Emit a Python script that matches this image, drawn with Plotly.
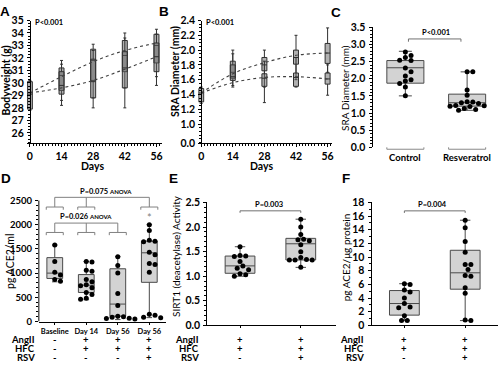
import plotly.graph_objects as go

W, H = 500, 373
FONT = "Lato"
LFONT = "Liberation Sans"


def fx(px):
    return px / W


def fy(py):
    return 1 - py / H


# ------------------------------------------------------------------ data
days = [0, 14, 28, 42, 56]
later_days = [14, 28, 42, 56]

# Panel A: bodyweight (g)
bw_day0 = [27.9, 29.1, 30.1, 27.8, 30.2]          # q1, median, q3, low, high
bw_ctrl_q1 = [29.4, 30.2, 30.9, 31.6]
bw_ctrl_med = [30.6, 31.8, 32.2, 33.0]
bw_ctrl_q3 = [31.2, 32.7, 33.4, 33.9]
bw_ctrl_lo = [28.6, 28.8, 29.6, 30.5]
bw_ctrl_hi = [31.8, 33.1, 34.0, 34.3]
bw_rsv_q1 = [29.1, 28.8, 29.6, 30.9]
bw_rsv_med = [29.8, 30.1, 31.2, 32.1]
bw_rsv_q3 = [30.9, 31.9, 32.5, 33.2]
bw_rsv_lo = [28.2, 28.0, 28.0, 29.8]
bw_rsv_hi = [31.5, 32.6, 33.6, 33.9]
bw_ctrl_fit = [29.2, 30.5, 31.7, 32.6, 33.2]
bw_rsv_fit = [29.2, 29.6, 30.2, 31.1, 32.1]

# Panel B: SRA diameter (mm) over time
sra_day0 = [1.30, 1.42, 1.48, 1.28, 1.50]
sra_ctrl_q1 = [1.62, 1.72, 1.81, 1.82]
sra_ctrl_med = [1.70, 1.80, 1.90, 1.96]
sra_ctrl_q3 = [1.85, 1.90, 2.00, 2.09]
sra_ctrl_lo = [1.52, 1.50, 1.60, 1.70]
sra_ctrl_hi = [2.00, 2.00, 2.20, 2.30]
sra_rsv_q1 = [1.59, 1.51, 1.51, 1.54]
sra_rsv_med = [1.64, 1.62, 1.63, 1.61]
sra_rsv_q3 = [1.80, 1.68, 1.69, 1.69]
sra_rsv_lo = [1.50, 1.29, 1.50, 1.39]
sra_rsv_hi = [1.95, 1.85, 1.90, 1.80]
sra_ctrl_fit = [1.42, 1.68, 1.83, 1.93, 1.96]
sra_rsv_fit = [1.42, 1.56, 1.63, 1.64, 1.61]
sra_ticks = [1.0, 1.2, 1.4, 1.6, 1.8, 2.0, 2.2, 2.4]

# Panel C: SRA diameter (mm) at end
c_labels = ["Control", "Resveratrol"]
c_ctrl_pts = [2.78, 2.68, 2.62, 2.54, 2.53, 2.31, 2.20, 2.08, 1.97, 1.93, 1.86, 1.76, 1.50]
c_rsv_pts = [2.20, 2.20, 1.67, 1.52, 1.33, 1.32, 1.30, 1.28, 1.22, 1.21, 1.20, 1.19, 1.13, 1.10, 1.08]
c_stats = {"q1": [1.87, 1.20], "median": [2.32, 1.30], "q3": [2.53, 1.55],
           "lowerfence": [1.50, 1.08], "upperfence": [2.80, 2.20]}

# Panel D: plasma ACE2 (pg/ml)
d_labels = ["Baseline", "Day 14", "Day 56", "Day 56"]
d_pts = [
    [1580, 1240, 1020, 960, 870, 830],
    [1240, 1230, 1060, 1040, 870, 820, 760, 740, 700, 600, 560, 480, 460],
    [1340, 1160, 1000, 580, 330, 110, 100, 90, 70, 60, 50],
    [2000, 1880, 1680, 1660, 1650, 1430, 1380, 1200, 1180, 1020, 150, 130, 90, 80],
]
d_stats = {"q1": [890, 600, 110, 810], "median": [1000, 750, 360, 1420],
           "q3": [1320, 970, 1090, 1660], "lowerfence": [820, 450, 40, 80],
           "upperfence": [1580, 1240, 1340, 2000]}
d_angii = ["-", "+", "+", "+"]
d_hfc = ["-", "+", "+", "+"]
d_rsv = ["-", "-", "-", "+"]

# Panel E: SIRT1 activity
e_pts = [
    [1.60, 1.42, 1.41, 1.40, 1.30, 1.21, 1.16, 1.13, 1.05, 1.03, 1.00],
    [2.16, 2.00, 1.85, 1.75, 1.74, 1.72, 1.64, 1.50, 1.38, 1.34, 1.33, 1.33, 1.33, 1.18],
]
e_stats = {"q1": [1.06, 1.33], "median": [1.21, 1.66], "q3": [1.41, 1.77],
           "lowerfence": [1.00, 1.18], "upperfence": [1.60, 2.16]}

# Panel F: tissue ACE2 (pg/ug protein)
f_pts = [
    [6.1, 6.0, 5.2, 4.9, 4.0, 3.2, 2.7, 2.6, 1.4, 0.7, 0.7],
    [15.4, 14.3, 12.3, 10.7, 8.9, 8.9, 8.2, 7.3, 7.2, 5.5, 4.7, 0.8, 0.7],
]
f_stats = {"q1": [1.5, 5.3], "median": [3.2, 7.7], "q3": [5.1, 11.0],
           "lowerfence": [0.7, 0.7], "upperfence": [6.1, 15.4]}
ef_angii = ["+", "+"]
ef_hfc = ["+", "+"]
ef_rsv = ["-", "+"]

# ------------------------------------------------------------------ layout geometry (pixels)
P = {
    "A": (27.05, 163, [-1.3, 58.6], 15, 142, [25.15, 35]),
    "B": (199.05, 333, [-1.3, 57.8], 15, 142, [0.738, 2.4]),
    "C": (374, 500, [-0.532, 1.5], 22, 146, [0, 3.5]),
    "D": (39, 167, [-0.505, 3.54], 194, 326, [0, 2640]),
    "E": (208, 337, [-0.541, 1.574], 203, 330, [0, 2.5]),
    "F": (373, 500, [-0.541, 1.54], 203, 330, [0, 18]),
}
AX = {"A": ("x", "y"), "B": ("x2", "y2"), "C": ("x3", "y3"),
      "D": ("x4", "y4"), "E": ("x5", "y5"), "F": ("x6", "y6")}


def ppu(k):
    x0, x1, xr, yt, yb, yr = P[k]
    return (x1 - x0) / (xr[1] - xr[0]), (yb - yt) / (yr[1] - yr[0])


def swarm(vals, k, d=5.2):
    ppx, ppy = ppu(k)
    placed = []
    offs = [0.0] * len(vals)
    order = sorted(range(len(vals)), key=lambda i: -vals[i])
    cands = [0.0]
    for j in range(1, 25):
        cands += [j * d * 0.55, -j * d * 0.55]
    for i in order:
        yv = vals[i] * ppy
        for c in cands:
            if all((c - a) ** 2 + (yv - b) ** 2 >= d * d for a, b in placed):
                break
        placed.append((c, yv))
        offs[i] = c / ppx
    return offs


fig = go.Figure()

TIME_FILL = "rgba(100,100,100,0.5)"
TIME_LINE = "#303030"


def time_boxes(k, d0, cq1, cmed, cq3, clo, chi, rq1, rmed, rq3, rlo, rhi, cfit, rfit):
    xa, ya = AX[k]
    common = dict(xaxis=xa, yaxis=ya, width=2.2, boxpoints=False, fillcolor=TIME_FILL,
                  line=dict(color=TIME_LINE, width=1), whiskerwidth=0.6, hoverinfo="skip")
    fig.add_trace(go.Box(x=[days[0]], q1=[d0[0]], median=[d0[1]], q3=[d0[2]],
                         lowerfence=[d0[3]], upperfence=[d0[4]], **common))
    fig.add_trace(go.Box(x=later_days, q1=cq1, median=cmed, q3=cq3,
                         lowerfence=clo, upperfence=chi, **common))
    fig.add_trace(go.Box(x=later_days, q1=rq1, median=rmed, q3=rq3,
                         lowerfence=rlo, upperfence=rhi, **common))
    for fit in (cfit, rfit):
        fig.add_trace(go.Scatter(x=days, y=fit, mode="lines", xaxis=xa, yaxis=ya,
                                 line=dict(color="#404040", width=1.1, dash="dot", shape="spline"),
                                 hoverinfo="skip"))


time_boxes("A", bw_day0, bw_ctrl_q1, bw_ctrl_med, bw_ctrl_q3, bw_ctrl_lo, bw_ctrl_hi,
           bw_rsv_q1, bw_rsv_med, bw_rsv_q3, bw_rsv_lo, bw_rsv_hi, bw_ctrl_fit, bw_rsv_fit)
time_boxes("B", sra_day0, sra_ctrl_q1, sra_ctrl_med, sra_ctrl_q3, sra_ctrl_lo, sra_ctrl_hi,
           sra_rsv_q1, sra_rsv_med, sra_rsv_q3, sra_rsv_lo, sra_rsv_hi, sra_ctrl_fit, sra_rsv_fit)

BOX_FILL = "#d3d3d3"
BOX_LINE = "#4a4a4a"


def cat_boxes(k, stats, pts_groups, width):
    xa, ya = AX[k]
    n = len(stats["q1"])
    fig.add_trace(go.Box(x=list(range(n)), xaxis=xa, yaxis=ya, width=width, boxpoints=False,
                         fillcolor=BOX_FILL, line=dict(color=BOX_LINE, width=1),
                         whiskerwidth=0.35, hoverinfo="skip", **stats))
    for gi, pts in enumerate(pts_groups):
        offs = swarm(pts, k)
        fig.add_trace(go.Scatter(x=[gi + o for o in offs], y=pts, mode="markers",
                                 xaxis=xa, yaxis=ya, cliponaxis=False,
                                 marker=dict(color="black", size=5), hoverinfo="skip"))


cat_boxes("C", c_stats, [c_ctrl_pts, c_rsv_pts], 0.6)
cat_boxes("D", d_stats, d_pts, 0.5)
cat_boxes("E", e_stats, e_pts, 0.49)
cat_boxes("F", f_stats, f_pts, 0.49)

# ------------------------------------------------------------------ axes
TF = dict(family=FONT, size=10.5, color="black", weight="bold")


def yax(k, **kw):
    x0, x1, xr, yt, yb, yr = P[k]
    d = dict(domain=[fy(yb), fy(yt)], range=yr, showline=True, linecolor="black", linewidth=1,
             ticks="outside", ticklen=3, tickcolor="black", tickwidth=1, showgrid=False,
             zeroline=False, tickfont=TF, anchor=AX[k][0], ticklabelstandoff=1)
    d.update(kw)
    return d


def xax(k, **kw):
    x0, x1, xr, yt, yb, yr = P[k]
    d = dict(domain=[fx(x0), fx(x1)], range=xr, showline=True, linecolor="black", linewidth=1,
             ticks="outside", ticklen=2, tickcolor="black", tickwidth=1, showgrid=False,
             zeroline=False, tickfont=TF, anchor=AX[k][1])
    d.update(kw)
    return d


MINOR = dict(ticks="outside", ticklen=2, tickcolor="black", tickwidth=1)

fig.update_layout(
    xaxis=xax("A", tickvals=days, ticklen=3, minor=dict(dtick=1.4, tick0=0, **MINOR)),
    yaxis=yax("A", dtick=1, tick0=0, anchor="free", position=fx(30),
              minor=dict(dtick=0.25, tick0=0, **MINOR)),
    xaxis2=xax("B", tickvals=days, ticklen=3, minor=dict(dtick=1.4, tick0=0, **MINOR)),
    yaxis2=yax("B", tickvals=[P["B"][5][0]] + sra_ticks,
               ticktext=["0.0"] + [f"{v:.1f}" for v in sra_ticks],
               anchor="free", position=fx(202),
               minor=dict(dtick=0.05, tick0=0, **MINOR)),
    xaxis3=xax("C", tickvals=[0, 1], showline=False, ticks="", showticklabels=False),
    yaxis3=yax("C", dtick=0.5, tickformat=".1f", minor=dict(dtick=0.1, **MINOR)),
    xaxis4=xax("D", tickvals=[0, 1, 2, 3], ticktext=d_labels,
               tickfont=dict(family=FONT, size=7.5, color="black", weight="bold")),
    yaxis4=yax("D", tickvals=[0, 500, 1000, 1500, 2000, 2500], showline=False,
               tickfont=dict(family=FONT, size=9.5, color="black", weight="bold"),
               minor=dict(tickmode="array", tickvals=list(range(0, 2501, 100)), **MINOR)),
    xaxis5=xax("E", tickvals=[0, 1], showticklabels=False),
    yaxis5=yax("E", dtick=0.5, tickformat=".1f", minor=dict(dtick=0.1, **MINOR)),
    xaxis6=xax("F", tickvals=[0, 1], showticklabels=False),
    yaxis6=yax("F", dtick=2, minor=dict(dtick=1, **MINOR)),
)

shapes = []
ann = []


def line(xref, yref, x0, y0, x1, y1, color="black", width=1):
    shapes.append(dict(type="line", xref=xref, yref=yref, x0=x0, y0=y0, x1=x1, y1=y1,
                       line=dict(color=color, width=width)))


def text(x, y, s, size=10, bold=True, xref="paper", yref="paper", xanchor="center",
         angle=0, family=FONT, color="black"):
    ann.append(dict(x=x, y=y, xref=xref, yref=yref, text=s, showarrow=False,
                    xanchor=xanchor, yanchor="middle", textangle=angle,
                    font=dict(family=family, size=size, color=color,
                              weight="bold" if bold else "normal")))


# D: manual y axis line (0..2500)
line("paper", "y4", fx(39), 0, fx(39), 2500)

# C: grey category brackets under the groups + labels
for gi, lab in enumerate(c_labels):
    xr = "x3"
    yb = fy(148)
    line(xr, "paper", gi - 0.3, yb, gi + 0.3, yb, color="#8a8a8a")
    line(xr, "paper", gi - 0.3, yb, gi - 0.3, yb + 2 / H, color="#8a8a8a")
    line(xr, "paper", gi + 0.3, yb, gi + 0.3, yb + 2 / H, color="#8a8a8a")
    text(gi, fy(157), lab, size=9.5, xref=xr)


def pbracket(xa, ya, xl, xr_, yv, drop, label, tx, ty):
    line(xa, ya, xl, yv, xr_, yv, color="#707070")
    line(xa, ya, xl, yv, xl, yv - drop, color="#707070")
    line(xa, ya, xr_, yv, xr_, yv - drop, color="#707070")
    text(tx, ty, label, size=7.5, xref=xa, yref=ya)


pbracket("x3", "y3", 0.05, 0.9, 3.16, 0.08, "P<0.001", 0.5, 3.34)
pbracket("x5", "y5", 0.0, 1.0, 2.33, 0.04, "P=0.003", 0.47, 2.46)
pbracket("x6", "y6", 0.0, 1.0, 16.77, 0.3, "P=0.004", 0.47, 17.75)


# D: ANOVA brackets
def anova(groups, ytop, ysub, yend, label, tx, ty_px):
    g = "#808080"
    line("x4", "y4", groups[0], ytop, groups[-1], ytop, color=g)
    for gx in groups:
        line("x4", "y4", gx, ytop, gx, ysub, color=g)
        line("x4", "y4", gx - 0.27, ysub, gx + 0.27, ysub, color=g)
        line("x4", "y4", gx - 0.27, ysub, gx - 0.27, yend, color=g)
        line("x4", "y4", gx + 0.27, ysub, gx + 0.27, yend, color=g)
    text(tx, fy(ty_px), label, size=7.5, xref="x4", yref="paper")


anova([0, 1, 3], 2566, 2366, 2310, "P=0.075 <span style='font-size:6px'>ANOVA</span>", 1.64, 192)
anova([0, 1, 2], 2034, 1840, 1784, "P=0.026 <span style='font-size:6px'>ANOVA</span>", 1.0, 218)
text(3, 2150, "*", size=11, bold=False, xref="x4", yref="y4", color="#808080")

# P texts on A and B
text(fx(33), fy(17), "P<0.001", size=7.5, xanchor="left")
text(fx(205), fy(17), "P<0.001", size=7.5, xanchor="left")

# x titles
text(fx(93), fy(165), "Days", size=10.5)
text(fx(263), fy(165), "Days", size=10.5)

# y titles
text(fx(6), fy(77), "Bodyweight (g)", size=10.5, angle=-90)
text(fx(176), fy(68), "SRA Diameter (mm)", size=10.5, angle=-90)
text(fx(347), fy(85), "SRA Diameter (mm)", size=10, bold=False, angle=-90)
text(fx(9.5), fy(264), "pg ACE2/ml", size=10.5, bold=False, angle=-90)
text(fx(176), fy(258), "SIRT1 (deacetylase) Activity", size=10, bold=False, angle=-90)
text(fx(347), fy(260), "pg ACE2/\u03bcg protein", size=10, bold=False, angle=-90)

# treatment rows
rows_y = [344.5, 354, 363.5]
for names, xr_lab, k, signs_list in [
    (["AngII", "HFC", "RSV"], 37, "D", [d_angii, d_hfc, d_rsv]),
    (["AngII", "HFC", "RSV"], 202, "E", [ef_angii, ef_hfc, ef_rsv]),
    (["AngII", "HFC", "RSV"], 367, "F", [ef_angii, ef_hfc, ef_rsv]),
]:
    xa = AX[k][0]
    for name, py, signs in zip(names, rows_y, signs_list):
        ann.append(dict(x=fx(xr_lab), y=fy(py), xref="paper", yref="paper", text=name,
                        showarrow=False, xanchor="right", yanchor="middle",
                        font=dict(family=FONT, size=9.5, color="black", weight="bold")))
        for gi, s in enumerate(signs):
            text(gi, fy(py), s, size=9.5, xref=xa, yref="paper")

# panel letters
for letter, (px, py) in {"A": (5, 6), "B": (165, 6), "C": (337, 7),
                         "D": (6, 178), "E": (174, 178), "F": (347, 178)}.items():
    text(fx(px), fy(py), letter, size=13.5, family=LFONT)

fig.update_layout(shapes=shapes, annotations=ann, width=W, height=H,
                  margin=dict(l=0, r=0, t=0, b=0), paper_bgcolor="white",
                  plot_bgcolor="white", showlegend=False, boxmode="overlay")

fig.write_html("out.html", config={"displayModeBar": False},
               post_script="document.body.style.margin='0px';document.body.style.overflow='hidden';")
